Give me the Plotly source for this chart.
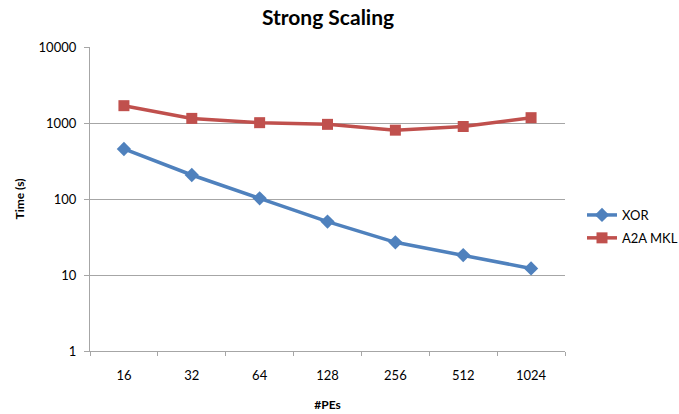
import plotly.graph_objects as go

pes = ["16", "32", "64", "128", "256", "512", "1024"]
xor_time = [455, 207, 102, 50.5, 26.9, 18.3, 12.2]
a2a_time = [1690, 1150, 1010, 960, 805, 900, 1175]
y_ticks = [1, 10, 100, 1000, 10000]
y_tick_text = ["1", "10", "100", "1000", "10000"]

font = "Lato, Open Sans, sans-serif"
axis_gray = "#A6A6A6"

fig = go.Figure()
fig.add_trace(go.Scatter(
    x=pes, y=xor_time, name="XOR", mode="lines+markers", legendgroup="a",
    line=dict(color="#4F81BD", width=3.5),
    marker=dict(symbol="diamond", size=11, color="#4F81BD"),
))
fig.add_trace(go.Scatter(
    x=pes, y=a2a_time, name="A2A MKL", mode="lines+markers", legendgroup="b",
    line=dict(color="#C0504D", width=3.5),
    marker=dict(symbol="square", size=11, color="#C0504D"),
))

fig.update_layout(
    width=679, height=414,
    margin=dict(l=90, r=114, t=47, b=63),
    paper_bgcolor="white", plot_bgcolor="white",
    font=dict(family=font, size=13, color="#000"),
    title=dict(text="<b>Strong Scaling</b>", x=328 / 679, xanchor="center",
               y=1 - 18 / 414, yanchor="middle", font=dict(size=21, family=font)),
    legend=dict(xref="container", yref="container",
                x=582 / 679, y=1 - 226.5 / 414, xanchor="left", yanchor="middle",
                font=dict(size=13, family=font), tracegroupgap=3,
                bgcolor="rgba(0,0,0,0)"),
    xaxis=dict(
        type="category", range=[-0.5, 6.5], showgrid=False, automargin=False,
        showline=True, linecolor=axis_gray, linewidth=1.3,
        ticks="outside", tickson="boundaries", ticklen=4, tickcolor=axis_gray,
        ticklabelstandoff=12, zeroline=False,
        title=dict(text="<b>#PEs</b>", font=dict(size=12), standoff=18),
        tickfont=dict(size=13),
    ),
    yaxis=dict(
        type="log", range=[0, 4], tickvals=y_ticks, ticktext=y_tick_text,
        showgrid=True, gridcolor=axis_gray, gridwidth=1.3, automargin=False,
        showline=True, linecolor=axis_gray, linewidth=1.3,
        ticks="outside", ticklen=5, tickcolor=axis_gray,
        ticklabelstandoff=5, zeroline=False,
        title=dict(text="<b>Time (s)</b>", font=dict(size=12), standoff=11),
        tickfont=dict(size=13),
    ),
)

fig.write_html("out.html", config={"displayModeBar": False},
               post_script="document.body.style.margin='0';")
